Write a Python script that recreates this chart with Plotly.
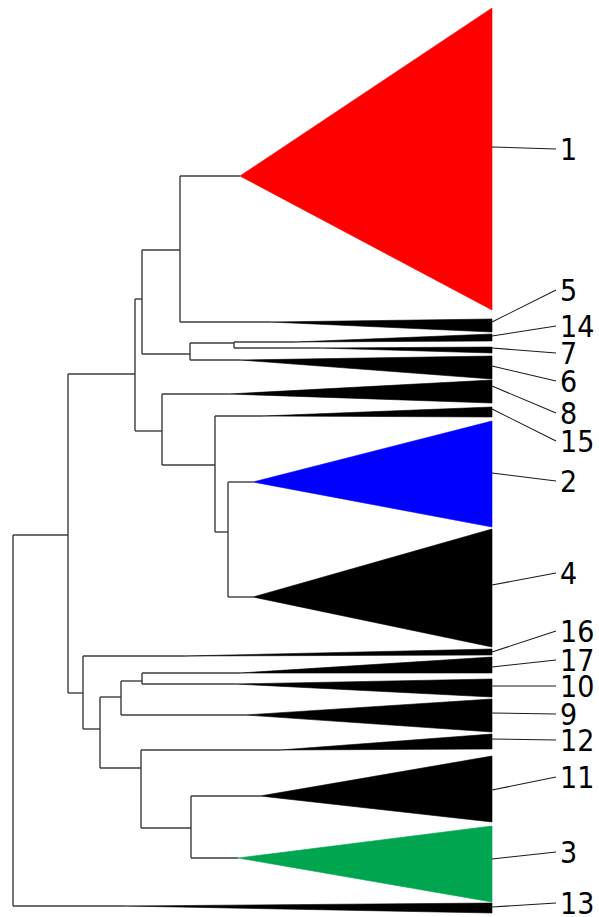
import plotly.graph_objects as go

# ---- tree data (depth = distance from root, pos = vertical position) ----
node_ids    = ["R", "A", "B", "C", "D", "E", "F", "G", "H", "I", "J", "K", "L", "M", "N", "O"]
node_parent = [None, "R", "A", "B", "C", "C", "E", "B", "G", "H", "A", "J", "K", "L", "K", "N"]
node_depth  = [0, 55, 122, 129, 167, 177, 221, 149, 202, 215, 70, 87, 108, 129, 128, 178]
node_pos    = [720, 535, 374, 299, 250, 354, 343, 431, 465, 532, 693, 729, 697, 681, 768, 828]

# ---- collapsed clades ----
clade_labels = ["1", "5", "14", "7", "6", "8", "15", "2", "4", "16", "17", "10", "9", "12", "11", "3", "13"]
clade_parent = ["D", "D", "F", "F", "E", "G", "H", "I", "I", "J", "M", "M", "L", "N", "O", "O", "R"]
clade_depth  = [227, 257, 282, 307, 227, 215, 249, 240, 240, 172, 227, 222, 232, 267, 247, 225, 112]
clade_pos    = [176, 322, 342, 348, 360, 394, 416, 482, 597, 656, 673, 684, 715, 750, 796, 858, 906]
clade_top    = [8, 319, 334, 347, 356, 380, 407, 421, 529, 649, 657, 679, 699, 734, 756, 826, 903]
clade_bottom = [310, 332, 341, 353, 379, 403, 417, 527, 647, 655, 673, 697, 732, 749, 822, 902, 913]
clade_colors = ["#ff0000", "#000000", "#000000", "#000000", "#000000", "#000000", "#000000",
                "#0000ff", "#000000", "#000000", "#000000", "#000000", "#000000", "#000000",
                "#000000", "#00a550", "#000000"]
label_pos    = [149, 290, 326, 353, 381, 413, 441, 481, 573, 631, 660, 686, 714, 740, 777, 852, 903]
attach_pos   = [147, 322, 336, 348, 366, 386, 409, 473, 585, 652, 667, 686, 713, 739, 790, 859, 907]

tip_depth = 479

nd = {n: (d, p) for n, d, p in zip(node_ids, node_depth, node_pos)}
children = {n: [] for n in node_ids}
for n, par in zip(node_ids, node_parent):
    if par is not None:
        children[par].append(nd[n][1])
for par, p in zip(clade_parent, clade_pos):
    children[par].append(p)

bx, by = [], []
for n, par in zip(node_ids, node_parent):
    if par is None:
        continue
    bx += [nd[par][0], nd[n][0], None]
    by += [nd[n][1], nd[n][1], None]
for n in node_ids:
    ch = children[n]
    bx += [nd[n][0], nd[n][0], None]
    by += [min(ch), max(ch), None]
for par, d, p in zip(clade_parent, clade_depth, clade_pos):
    bx += [nd[par][0], d, None]
    by += [p, p, None]

fig = go.Figure()
fig.add_trace(go.Scatter(x=bx, y=by, mode="lines",
                         line=dict(color="#3c3c3c", width=1.4),
                         hoverinfo="skip", showlegend=False))

for lab, d, p, t, b, c in zip(clade_labels, clade_depth, clade_pos, clade_top, clade_bottom, clade_colors):
    fig.add_trace(go.Scatter(x=[d, tip_depth, tip_depth, d], y=[p, t, b, p],
                             mode="lines", fill="toself", fillcolor=c,
                             line=dict(color=c, width=0.6),
                             hoverinfo="skip", showlegend=False))

lx, ly = [], []
for a, l in zip(attach_pos, label_pos):
    lx += [tip_depth, tip_depth + 64, None]
    ly += [a, l, None]
fig.add_trace(go.Scatter(x=lx, y=ly, mode="lines",
                         line=dict(color="#1a1a1a", width=1.1),
                         hoverinfo="skip", showlegend=False))

for lab, l in zip(clade_labels, label_pos):
    fig.add_annotation(x=tip_depth + 66, y=l, text=lab, showarrow=False,
                       xanchor="left", yanchor="middle",
                       font=dict(family="DejaVu Sans Condensed, DejaVu Sans", size=30, color="#000000"))

fig.update_layout(width=599, height=917, margin=dict(l=0, r=0, t=0, b=0),
                  plot_bgcolor="white", paper_bgcolor="white",
                  xaxis=dict(range=[-13, 586], visible=False, fixedrange=True),
                  yaxis=dict(range=[917, 0], visible=False, fixedrange=True))

fig.write_html("out.html", config={"displayModeBar": False},
               post_script="document.body.style.margin='0';document.body.style.overflow='hidden';")
